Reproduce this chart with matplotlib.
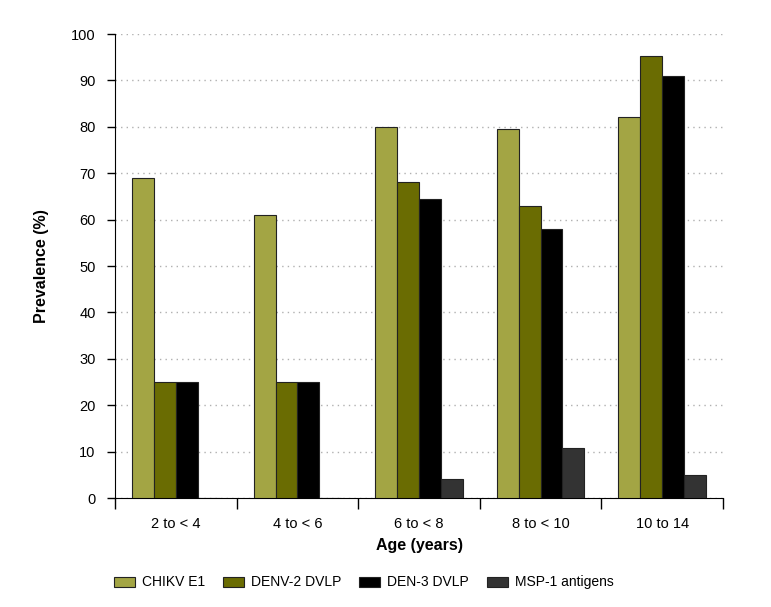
import numpy as np
import matplotlib.pyplot as plt

# Date
grupe = ['2 to < 4', '4 to < 6', '6 to < 8', '8 to < 10', '10 to 14']
serii = ['CHIKV E1', 'DENV-2 DVLP', 'DEN-3 DVLP', 'MSP-1 antigens']
chikv = [69, 61, 80, 79.5, 82.2]
denv2 = [25, 25, 68.2, 63, 95.3]
den3 = [25, 25, 64.4, 58, 91]
msp1 = [0, 0, 4.1, 10.8, 5]
culori = ['#a3a544', '#6a6c02', '#000000', '#333333']

plt.rcParams['font.family'] = ['Liberation Sans', 'DejaVu Sans']

fig = plt.figure(figsize=(7.71, 6.07), dpi=100)
ax = fig.add_axes([115/771, 1 - 498/607, 608/771, 464/607])

x = np.arange(len(grupe)) + 0.5
w = 0.18
for i, (vals, nume) in enumerate(zip([chikv, denv2, den3, msp1], serii)):
    ax.bar(x + (i - 1.5) * w, vals, width=w, color=culori[i],
           edgecolor='#222222', linewidth=0.8, label=nume, zorder=3)

ax.set_xlim(0, len(grupe))
ax.set_ylim(0, 100)
ax.set_yticks(np.arange(0, 101, 10))
ax.yaxis.grid(True, color='#b0b0b0', linestyle=(0, (1, 3)), linewidth=1, zorder=0)

ax.set_xticks(np.arange(0, len(grupe) + 1))
ax.set_xticklabels([])
ax.set_xticks(x, minor=True)
ax.set_xticklabels(grupe, minor=True, fontsize=10.5)
ax.tick_params(axis='x', which='major', length=8, direction='out', width=1)
ax.tick_params(axis='x', which='minor', length=0, pad=14)
ax.tick_params(axis='y', length=6, direction='out', width=1, labelsize=10.5, pad=8)

for s in ['top', 'right']:
    ax.spines[s].set_visible(False)

ax.set_xlabel('Age (years)', fontsize=11.5, fontweight='bold', labelpad=5)
ax.set_ylabel('Prevalence (%)', fontsize=11.5, fontweight='bold', labelpad=16)

ax.legend(loc='upper left', bbox_to_anchor=(-0.022, -0.14), ncol=4, frameon=False,
          fontsize=10, handlelength=1.5, handleheight=0.75, handletextpad=0.5,
          columnspacing=1.3)

fig.savefig('out.png', dpi=100)
